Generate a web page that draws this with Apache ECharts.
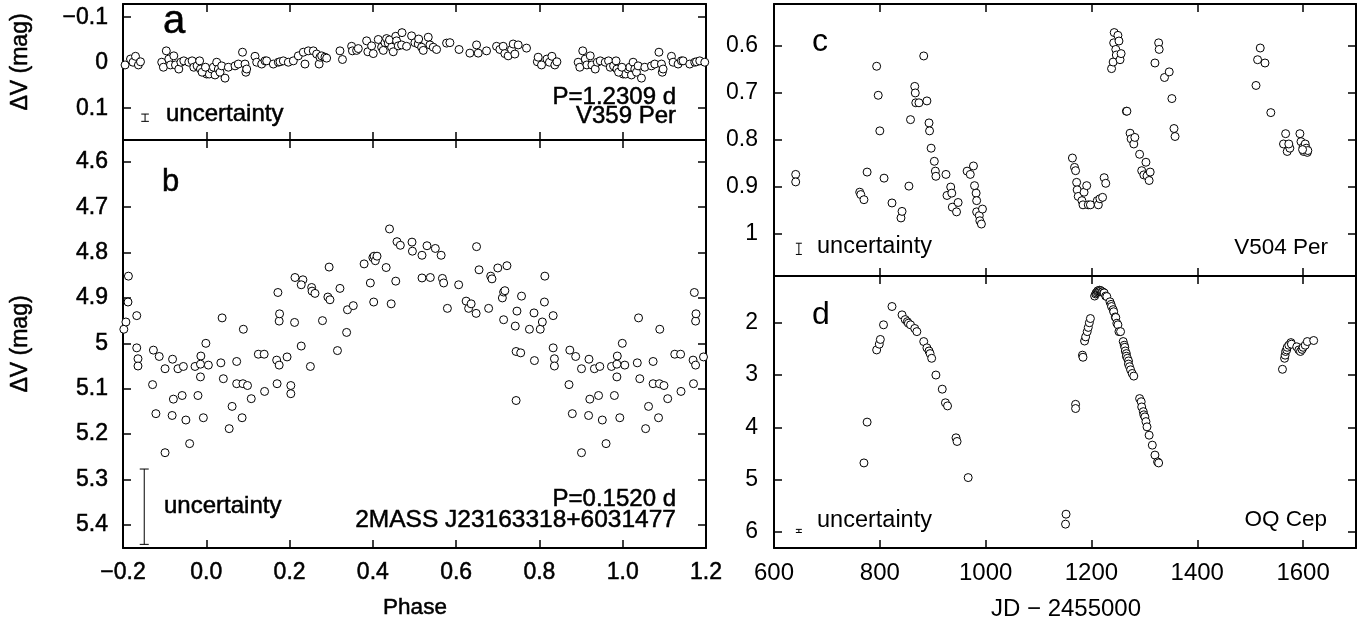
<!DOCTYPE html>
<html>
<head>
<meta charset="utf-8">
<script src="https://cdn.jsdelivr.net/npm/echarts@6/dist/echarts.min.js"></script>
<style>
html, body { margin: 0; padding: 0; background: #fff; }
#chart { width: 1368px; height: 625px; }
</style>
</head>
<body>
<div id="chart"></div>
<script>
// panel a: V359 Per, one cycle of [phase, dV]
const v359Per = [
  [0.001,0.025],[0.007,0.025],[0.013,0.014],[0.017,0.010],[0.021,0.027],[0.025,-0.001],[0.029,0.014],
  [0.033,0.021],[0.037,0.007],[0.045,0.034],[0.053,0.010],[0.069,0.007],[0.077,0.003],[0.087,-0.023],
  [0.093,0.003],[0.095,0.021],[0.097,0.014],[0.117,-0.014],[0.121,-0.001],[0.133,0.003],[0.141,-0.004],
  [0.145,-0.004],[0.161,0.003],[0.173,-0.001],[0.177,-0.002],[0.185,-0.004],[0.197,-0.001],[0.209,-0.004],
  [0.221,-0.015],[0.233,-0.023],[0.237,0.003],[0.245,-0.026],[0.257,-0.026],[0.265,-0.019],
  [0.271,0.003],[0.273,-0.012],[0.277,-0.015],[0.285,-0.012],[0.289,-0.010],[0.321,-0.026],[0.327,-0.007],
  [0.349,-0.036],[0.351,-0.026],[0.361,-0.027],[0.365,-0.031],[0.385,-0.048],[0.388,-0.024],[0.397,-0.037],
  [0.401,-0.020],[0.413,-0.051],[0.421,-0.034],[0.425,-0.027],[0.429,-0.044],[0.433,-0.053],[0.437,-0.043],
  [0.440,-0.050],[0.445,-0.034],[0.449,-0.024],[0.455,-0.058],[0.457,-0.048],[0.461,-0.037],[0.469,-0.039],
  [0.470,-0.066],[0.481,-0.036],[0.493,-0.059],[0.501,-0.044],[0.509,-0.041],[0.510,-0.052],[0.517,-0.034],
  [0.521,-0.027],[0.533,-0.056],[0.537,-0.039],[0.545,-0.034],[0.553,-0.029],[0.577,-0.043],[0.585,-0.044],
  [0.607,-0.029],[0.633,-0.021],[0.649,-0.039],[0.653,-0.021],[0.673,-0.026],[0.697,-0.036],[0.705,-0.029],
  [0.713,-0.036],[0.717,-0.020],[0.725,-0.015],[0.733,-0.029],[0.737,-0.041],
  [0.741,-0.019],[0.749,-0.039],[0.769,-0.032],[0.795,-0.002],[0.797,-0.012],[0.805,0.005],[0.818,-0.008],
  [0.824,-0.001],[0.830,-0.014],[0.837,0.005],[0.842,-0.002],[0.893,-0.001],[0.897,0.010],[0.904,-0.026],
  [0.910,-0.008],[0.914,0.005],[0.922,-0.015],[0.926,0.005],[0.934,0.014],[0.939,-0.001],[0.946,-0.004],
  [0.958,-0.001],[0.966,-0.004],[0.970,0.010],[0.978,0.007],[0.984,-0.004],[0.986,0.014],[0.990,0.021],
  [0.998,0.010]
];

// panel b: 2MASS J23163318+6031477, one cycle of [phase, dV]
const j2316 = [
  [0.005,5.048],[0.035,5.043],[0.038,4.944],[0.041,5.078],[0.073,5.040],[0.089,4.969],[0.125,5.024],
  [0.139,5.024],[0.169,5.037],[0.175,5.048],[0.175,4.951],[0.176,4.935],[0.172,4.888],[0.194,5.030],
  [0.212,4.954],[0.228,5.006],[0.213,4.855],[0.232,4.860],[0.228,4.871],[0.250,5.051],[0.253,4.877],
  [0.254,4.885],[0.261,4.890],[0.279,4.950],[0.292,4.898],[0.295,4.832],[0.297,4.904],[0.315,5.016],
  [0.321,4.879],[0.337,4.976],[0.339,4.926],[0.353,4.917],[0.379,4.825],[0.394,4.867],[0.400,4.811],
  [0.403,4.808],[0.406,4.818],[0.410,4.808],[0.402,4.909],[0.432,4.833],[0.440,4.748],[0.444,4.913],
  [0.455,4.863],[0.458,4.776],[0.466,4.784],[0.494,4.777],[0.495,4.797],[0.518,4.806],[0.518,4.856],
  [0.530,4.785],[0.538,4.855],[0.550,4.791],[0.564,4.806],[0.567,4.857],[0.570,4.867],[0.579,4.923],
  [0.606,4.871],[0.624,4.907],[0.630,4.923],[0.636,4.913],[0.649,4.787],[0.648,4.934],[0.655,4.838],
  [0.678,4.923],[0.683,4.852],[0.686,4.858],[0.700,4.834],[0.711,4.900],[0.722,4.829],[0.714,4.948],
  [0.714,4.887],[0.717,4.884],[0.742,4.962],[0.746,4.929],[0.757,4.896],[0.744,5.018],[0.755,5.021],
  [0.776,4.969],[0.787,4.933],[0.788,5.038],[0.802,4.969],[0.807,4.953],[0.812,4.909],[0.813,4.852],
  [0.833,4.939],[0.833,5.010],[0.836,5.034],[0.836,5.050],[0.873,5.015],[0.887,5.029],[0.901,5.056],
  [0.919,5.035],[0.932,5.056],[0.945,5.051],[0.973,5.051],[0.987,5.028],[0.986,5.046],[0.999,5.000],
  [0.055,5.188],[0.062,5.139],[0.073,5.089],[0.088,5.089],[0.099,5.093],[0.108,5.122],[0.086,5.164],
  [0.140,5.106],[0.170,5.089],[0.203,5.093],[0.203,5.111],[0.744,5.126],[0.871,5.091],[0.879,5.155],
  [0.901,5.241],[0.921,5.123],[0.918,5.159],[0.942,5.115],[0.951,5.169],[0.960,5.221],[0.980,5.115],
  [0.986,5.074],[0.993,5.164]
];

// panel c: V504 Per, [JD - 2455000, dV]
const v504Per = [
  [641,0.874],[641,0.890],[762,0.912],[764,0.917],[770,0.928],[776,0.869],[794,0.643],[797,0.705],
  [800,0.781],[808,0.882],[823,0.935],[840,0.967],[842,0.953],[855,0.899],[858,0.757],[866,0.686],
  [867,0.700],[868,0.721],[874,0.721],[883,0.621],[889,0.717],[893,0.764],[894,0.781],[897,0.818],
  [903,0.846],[905,0.867],[906,0.878],[925,0.874],[927,0.919],[934,0.901],[936,0.914],[937,0.944],
  [945,0.954],[948,0.934],[965,0.867],[971,0.874],[977,0.856],[979,0.898],[982,0.914],[983,0.930],
  [983,0.954],[988,0.962],[989,0.973],[994,0.948],[992,0.980],
  [1164,0.839],[1168,0.859],[1170,0.866],[1172,0.891],[1173,0.907],[1175,0.921],[1182,0.930],[1184,0.939],
  [1186,0.912],[1191,0.898],[1194,0.939],[1198,0.939],[1211,0.930],[1213,0.939],[1216,0.926],[1221,0.923],
  [1224,0.881],[1227,0.893],[1238,0.648],[1241,0.634],[1242,0.593],[1243,0.571],[1246,0.607],[1247,0.619],
  [1250,0.577],[1252,0.589],[1254,0.629],[1256,0.616],[1266,0.739],[1267,0.739],[1273,0.786],[1275,0.798],
  [1280,0.809],[1282,0.795],[1291,0.831],[1295,0.866],[1299,0.875],[1303,0.848],[1305,0.877],[1309,0.887],
  [1311,0.869],[1320,0.636],[1327,0.593],[1328,0.607],[1338,0.667],[1347,0.655],[1352,0.712],[1356,0.776],
  [1358,0.793],
  [1511,0.684],[1514,0.629],[1519,0.604],[1528,0.636],[1539,0.742],[1567,0.787],[1563,0.809],[1570,0.825],
  [1575,0.818],[1573,0.809],[1594,0.787],[1596,0.804],[1600,0.816],[1601,0.825],[1604,0.809],[1606,0.818],
  [1608,0.827],[1609,0.823],[1599,0.821]
];

// panel d: OQ Cep, [JD - 2455000, dV]
const oqCep = [
  [770,4.68],[776,3.90],[794,2.52],[799,2.41],[801,2.32],[807,2.04],[823,1.69],[842,1.85],[848,1.94],
  [852,1.98],[854,2.01],[858,2.04],[866,2.11],[870,2.17],[883,2.36],[889,2.48],[893,2.54],[895,2.59],
  [898,2.68],[906,3.00],[918,3.27],[924,3.53],[928,3.59],[944,4.20],[946,4.27],[967,4.96],
  [1151,5.85],[1152,5.66],[1170,3.56],[1170,3.64],[1183,2.62],[1184,2.66],[1187,2.35],[1189,2.27],
  [1192,2.17],[1194,2.09],[1196,2.00],[1198,1.92],
  [1206,1.49],[1208,1.45],[1209,1.43],[1211,1.41],[1212,1.39],[1213,1.39],[1215,1.38],[1216,1.38],
  [1218,1.39],[1220,1.41],[1221,1.41],[1223,1.43],[1224,1.43],[1227,1.49],[1229,1.50],[1235,1.60],
  [1237,1.65],[1238,1.69],[1241,1.75],[1242,1.79],[1245,1.89],[1246,1.90],[1248,2.01],[1250,2.04],
  [1252,2.17],[1255,2.17],[1260,2.36],[1262,2.43],[1263,2.47],[1264,2.54],[1266,2.59],[1266,2.64],
  [1268,2.68],[1270,2.73],[1270,2.79],[1272,2.84],[1274,2.90],[1277,2.97],[1280,3.02],
  [1291,3.45],[1294,3.51],[1295,3.61],[1298,3.70],[1299,3.76],[1301,3.80],[1303,3.89],[1305,3.99],
  [1309,4.15],[1315,4.34],[1320,4.53],[1325,4.66],[1327,4.68],
  [1561,2.89],[1565,2.68],[1566,2.62],[1567,2.55],[1569,2.52],[1570,2.47],[1573,2.43],[1577,2.38],
  [1578,2.41],[1588,2.46],[1592,2.52],[1595,2.55],[1598,2.51],[1600,2.47],[1604,2.43],[1608,2.36],
  [1620,2.34]
];

// typical uncertainty bars: [x, centre, half length]
const uncA = [-0.147, 0.121, 0.008];
const uncB = [-0.149, 5.36, 0.083];
const uncC = [647, 1.033, 0.012];
const uncD = [647, 5.98, 0.03];

// tick values
const phaseTicks = [-0.2, 0, 0.2, 0.4, 0.6, 0.8, 1.0, 1.2];
const jdTicks = [600, 800, 1000, 1200, 1400, 1600];
const ticksA = [-0.1, 0, 0.1];
const ticksB = [4.6, 4.7, 4.8, 4.9, 5.0, 5.1, 5.2, 5.3, 5.4];
const ticksC = [0.6, 0.7, 0.8, 0.9, 1.0];
const ticksD = [2, 3, 4, 5, 6];

const FONT = "'Liberation Sans', Arial, Helvetica, sans-serif";

// phase folded curves are plotted over -0.2..1.2, so repeat the cycle
function extendPhase(data) {
  const out = [];
  data.forEach(p => {
    out.push(p);
    if (p[0] - 1 >= -0.2) out.push([p[0] - 1, p[1]]);
    if (p[0] + 1 <= 1.2) out.push([p[0] + 1, p[1]]);
  });
  return out;
}

function fmtNum(v) {
  return String(Math.round(v * 100) / 100).replace('-', '\u2212');
}
function fmtPhase(v) {
  return (Math.round(v * 10) / 10).toFixed(1).replace('-', '\u2212');
}

function axis(grid, position, min, max, ticks, opts) {
  opts = opts || {};
  return {
    type: 'value',
    gridIndex: grid,
    position: position,
    min: min,
    max: max,
    inverse: !!opts.inverse,
    axisLine: { show: true, onZero: false, lineStyle: { color: '#000', width: 2 } },
    axisTick: { show: true, inside: true, length: 8, customValues: ticks, lineStyle: { color: '#000', width: 1.5 } },
    axisLabel: {
      show: !!opts.label,
      customValues: ticks,
      formatter: opts.formatter || fmtNum,
      color: '#000',
      fontSize: opts.fontSize || 23,
      fontFamily: FONT,
      margin: opts.margin || 14,
      textBorderColor: '#000',
      textBorderWidth: opts.heavy ? 0.5 : 0
    },
    splitLine: { show: false }
  };
}

function errBar(capHalf) {
  return function (params, api) {
    const x = api.value(0), y = api.value(1), e = api.value(2);
    const p1 = api.coord([x, y - e]);
    const p2 = api.coord([x, y + e]);
    const st = { stroke: '#000', lineWidth: 1 };
    return {
      type: 'group',
      children: [
        { type: 'line', shape: { x1: p1[0], y1: p1[1], x2: p2[0], y2: p2[1] }, style: st },
        { type: 'line', shape: { x1: p1[0] - capHalf, y1: p1[1], x2: p1[0] + capHalf, y2: p1[1] }, style: st },
        { type: 'line', shape: { x1: p2[0] - capHalf, y1: p2[1], x2: p2[0] + capHalf, y2: p2[1] }, style: st }
      ]
    };
  };
}

function scatter(xi, yi, data) {
  return {
    type: 'scatter',
    xAxisIndex: xi,
    yAxisIndex: yi,
    data: data,
    symbol: 'circle',
    symbolSize: 8,
    itemStyle: { color: '#fff', borderColor: '#000', borderWidth: 1, opacity: 1 },
    silent: true
  };
}

function txt(text, x, y, size, align, extra, heavy) {
  return Object.assign({
    type: 'text',
    x: x,
    y: y,
    silent: true,
    style: {
      text: text,
      font: size + 'px ' + FONT,
      textAlign: align,
      textVerticalAlign: 'middle',
      fill: '#000',
      stroke: heavy ? '#000' : null,
      lineWidth: heavy ? 0.5 : 0
    }
  }, extra || {});
}

const chart = echarts.init(document.getElementById('chart'));

const option = {
  animation: false,
  backgroundColor: '#fff',
  grid: [
    { left: 123, top: 4, width: 583, height: 136 },
    { left: 123, top: 140, width: 583, height: 408 },
    { left: 774, top: 4, width: 582, height: 272 },
    { left: 774, top: 276, width: 582, height: 272 }
  ],
  xAxis: [
    axis(0, 'bottom', -0.2, 1.2, phaseTicks),
    axis(0, 'top', -0.2, 1.2, phaseTicks),
    axis(1, 'bottom', -0.2, 1.2, phaseTicks, { label: true, formatter: fmtPhase, margin: 13, heavy: true }),
    axis(1, 'top', -0.2, 1.2, phaseTicks),
    axis(2, 'bottom', 600, 1700, jdTicks),
    axis(2, 'top', 600, 1700, jdTicks),
    axis(3, 'bottom', 600, 1700, jdTicks, { label: true, fontSize: 24, margin: 13 }),
    axis(3, 'top', 600, 1700, jdTicks)
  ],
  yAxis: [
    axis(0, 'left', -0.129, 0.170, ticksA, { inverse: true, label: true, margin: 15, heavy: true }),
    axis(0, 'right', -0.129, 0.170, ticksA, { inverse: true }),
    axis(1, 'left', 4.552, 5.451, ticksB, { inverse: true, label: true, margin: 15, heavy: true }),
    axis(1, 'right', 4.552, 5.451, ticksB, { inverse: true }),
    axis(2, 'left', 0.51, 1.091, ticksC, { inverse: true, label: true, margin: 16 }),
    axis(2, 'right', 0.51, 1.091, ticksC, { inverse: true }),
    axis(3, 'left', 1.107, 6.306, ticksD, { inverse: true, label: true, margin: 16 }),
    axis(3, 'right', 1.107, 6.306, ticksD, { inverse: true })
  ],
  series: [
    scatter(0, 0, extendPhase(v359Per)),
    scatter(2, 2, extendPhase(j2316)),
    scatter(4, 4, v504Per),
    scatter(6, 6, oqCep),
    { type: 'custom', xAxisIndex: 0, yAxisIndex: 0, data: [uncA], renderItem: errBar(3.8), silent: true },
    { type: 'custom', xAxisIndex: 2, yAxisIndex: 2, data: [uncB], renderItem: errBar(4.5), silent: true },
    { type: 'custom', xAxisIndex: 4, yAxisIndex: 4, data: [uncC], renderItem: errBar(3), silent: true },
    { type: 'custom', xAxisIndex: 6, yAxisIndex: 6, data: [uncD], renderItem: errBar(3), silent: true }
  ],
  graphic: [
    txt('a', 163, 22, 40, 'left', null, true),
    txt('b', 162, 182, 31, 'left', null, true),
    txt('c', 812, 42, 32, 'left'),
    txt('d', 812, 315, 32, 'left'),
    txt('uncertainty', 166, 114, 24, 'left', null, true),
    txt('P=1.2309 d', 676, 97, 24, 'right', null, true),
    txt('V359 Per', 676, 116, 24, 'right', null, true),
    txt('uncertainty', 164, 506, 24, 'left', null, true),
    txt('P=0.1520 d', 676, 499, 24, 'right', null, true),
    txt('2MASS J23163318+6031477', 676, 520, 24.5, 'right', null, true),
    txt('uncertainty', 817, 247, 23.5, 'left'),
    txt('V504 Per', 1328, 248, 22.5, 'right'),
    txt('uncertainty', 817, 521, 23.5, 'left'),
    txt('OQ Cep', 1327, 520, 22.5, 'right'),
    txt('\u0394V (mag)', 21, 62, 23, 'center', { rotation: Math.PI / 2 }, true),
    txt('\u0394V (mag)', 21, 344, 23, 'center', { rotation: Math.PI / 2 }, true),
    txt('Phase', 415, 608, 22.5, 'center', null, true),
    txt('JD \u2212 2455000', 1066, 609, 24, 'center')
  ]
};

chart.setOption(option);
window.addEventListener('resize', () => chart.resize());
</script>
</body>
</html>
